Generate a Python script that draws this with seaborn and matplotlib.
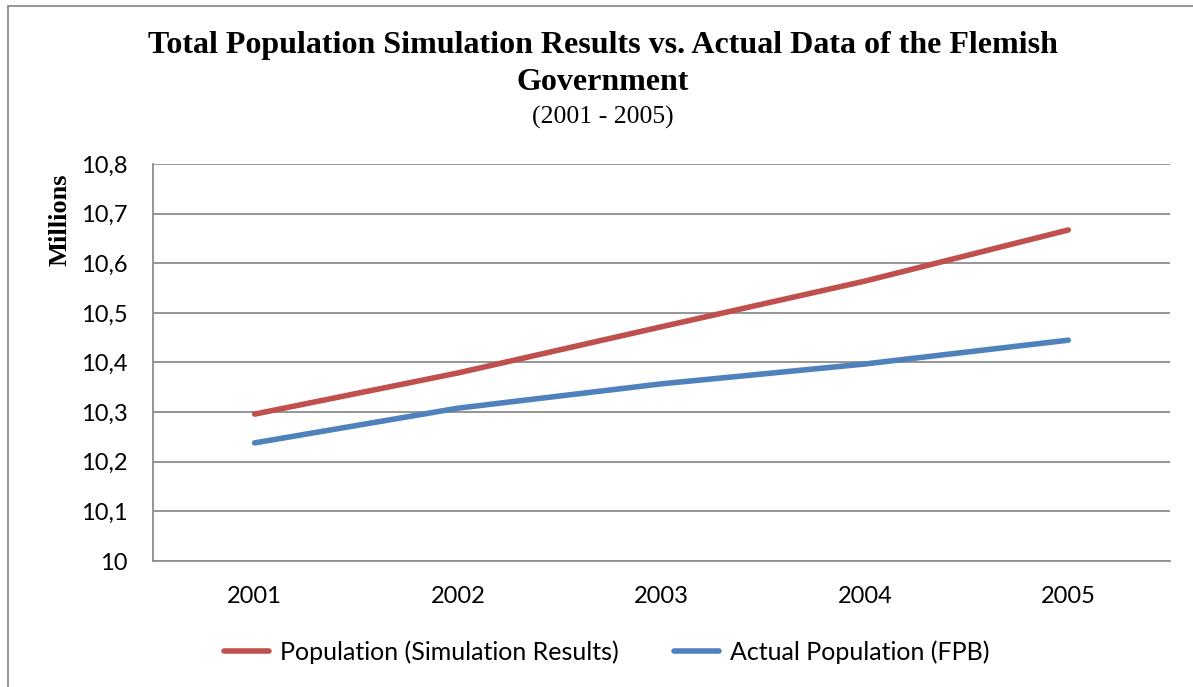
import pandas as pd
import numpy as np
import matplotlib
matplotlib.use("Agg")
import matplotlib.pyplot as plt
import seaborn as sns
from matplotlib.patches import Rectangle

# data (millions)
years = ["2001", "2002", "2003", "2004", "2005"]
simulation = [10.296, 10.379, 10.472, 10.564, 10.667]
actual = [10.238, 10.308, 10.357, 10.397, 10.445]
y_ticks = [10.0, 10.1, 10.2, 10.3, 10.4, 10.5, 10.6, 10.7, 10.8]
y_tick_labels = ["10", "10,1", "10,2", "10,3", "10,4", "10,5", "10,6", "10,7", "10,8"]

sim_name = "Population (Simulation Results)"
act_name = "Actual Population (FPB)"

df = pd.DataFrame({
    "year": years * 2,
    "value": simulation + actual,
    "series": [sim_name] * len(years) + [act_name] * len(years),
})

sns.set_theme(style="white")
plt.rcParams["font.family"] = ["Lato", "DejaVu Sans"]
plt.rcParams["text.color"] = "black"

fig = plt.figure(figsize=(11.93, 6.87), dpi=100)
ax = fig.add_axes([0.1282, 0.1834, 0.8525, 0.5779])

sns.lineplot(data=df, x="year", y="value", hue="series", sort=False,
             palette={sim_name: "#C0504D", act_name: "#4F81BD"},
             linewidth=4.0, ax=ax, legend=True)
for ln in ax.lines:
    ln.set_solid_capstyle("round")

ax.set_xlim(-0.5, len(years) - 0.5)
ax.set_ylim(10.0, 10.8)
ax.set_yticks(y_ticks)
ax.set_yticklabels(y_tick_labels)
ax.grid(axis="y", color="#8c8c8c", linewidth=1.3)
ax.set_axisbelow(True)
for side in ["top", "right"]:
    ax.spines[side].set_visible(False)
for side in ["left", "bottom"]:
    ax.spines[side].set_color("#8c8c8c")
    ax.spines[side].set_linewidth(1.3)
ax.tick_params(axis="both", length=0, labelsize=17, colors="black")
ax.tick_params(axis="y", pad=18)
ax.tick_params(axis="x", pad=18)
ax.set_xlabel("")
ax.set_ylabel("")

leg = ax.legend(loc="center", bbox_to_anchor=(607 / 1193, 1 - 652 / 687),
                bbox_transform=fig.transFigure, ncol=2, frameon=False,
                fontsize=18, handlelength=1.8, handletextpad=0.45,
                columnspacing=2.2)
for t in leg.get_texts():
    t.set_color("black")

serif = ["Liberation Serif", "DejaVu Serif"]
fig.text(603 / 1193, 1 - 45 / 687, "Total Population Simulation Results vs. Actual Data of the Flemish",
         ha="center", va="center", fontsize=23, fontweight="bold", family=serif, color="black")
fig.text(603 / 1193, 1 - 82 / 687, "Government",
         ha="center", va="center", fontsize=23, fontweight="bold", family=serif, color="black")
fig.text(603 / 1193, 1 - 117 / 687, "(2001 - 2005)",
         ha="center", va="center", fontsize=18.5, family=serif, color="black")
fig.text(60 / 1193, 1 - 220 / 687, "Millions", rotation=90,
         ha="center", va="center", fontsize=19, fontweight="bold", family=serif, color="black")

# outer chart frame
fig.patches.append(Rectangle((8 / 1193, -0.1), 1.2, 1.1 - 6 / 687,
                             transform=fig.transFigure, fill=False,
                             edgecolor="#8c8c8c", linewidth=1.3))

fig.savefig("out.png", dpi=100)
